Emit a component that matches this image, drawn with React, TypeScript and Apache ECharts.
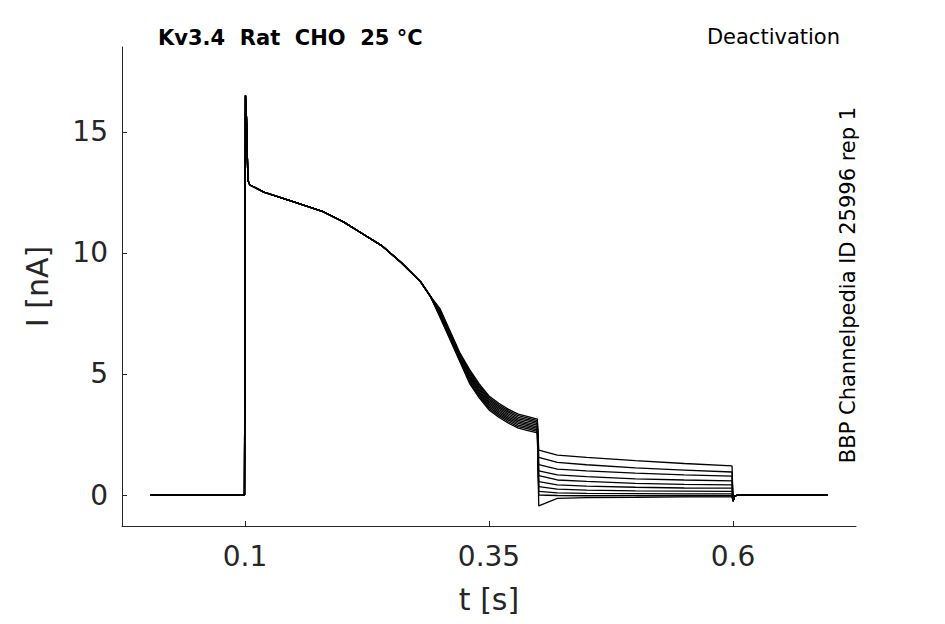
import React, { useEffect, useRef } from "react";
import * as echarts from "echarts";

const xTicks = [0.1, 0.35, 0.6];
const yTicks = [0, 5, 10, 15];
// shared activation segment (t [s], I [nA])
const actT = [0.003, 0.0995, 0.1, 0.1005, 0.1015, 0.103, 0.105, 0.12, 0.15, 0.18, 0.2, 0.22, 0.24, 0.26, 0.28, 0.29, 0.3, 0.31, 0.32, 0.33, 0.34, 0.35, 0.36, 0.37, 0.38, 0.39, 0.3995];
const actI = [0, 0, 0, 16.5, 15.6, 13.0, 12.8, 12.5, 12.1, 11.7, 11.3, 10.8, 10.3, 9.6, 8.8, 8.2, 7.5, 6.6, 5.7, 4.9, 4.3, 3.8, 3.5, 3.25, 3.05, 2.95, 2.85];
// per-trace spread in the decay part
const spread = [0.18, 0.14, 0.1, 0.06, 0.02, -0.02, -0.06, -0.1, -0.14, -0.18];
// tail levels at t = 0.401, 0.42, 0.45, 0.5, 0.55, 0.599
const tailT = [0.401, 0.42, 0.45, 0.5, 0.55, 0.599];
const tails = [
  [1.85, 1.65, 1.55, 1.42, 1.3, 1.2],
  [1.55, 1.35, 1.25, 1.12, 1.03, 0.95],
  [1.25, 1.07, 1.0, 0.9, 0.83, 0.78],
  [1.0, 0.83, 0.76, 0.67, 0.62, 0.58],
  [0.8, 0.62, 0.56, 0.48, 0.44, 0.42],
  [0.55, 0.42, 0.37, 0.32, 0.29, 0.28],
  [0.35, 0.24, 0.2, 0.17, 0.16, 0.15],
  [0.15, 0.09, 0.07, 0.06, 0.05, 0.05],
  [0.0, -0.02, -0.03, -0.03, -0.03, -0.03],
  [-0.45, -0.14, -0.11, -0.1, -0.08, -0.08],
];
const endT = [0.6, 0.6015, 0.605, 0.697];
const endI = [-0.25, -0.05, 0, 0];

function buildTrace(k: number): number[][] {
  const pts: number[][] = [];
  actT.forEach((t, i) => {
    const s = t >= 0.3 ? spread[k] * (t < 0.33 ? 1 : 1.6) : 0;
    pts.push([t, actI[i] + s]);
  });
  tailT.forEach((t, i) => pts.push([t, tails[k][i]]));
  endT.forEach((t, i) => pts.push([t, endI[i]]));
  return pts;
}

export default function App() {
  const ref = useRef<HTMLDivElement>(null);
  useEffect(() => {
    const chart = echarts.init(ref.current!, null, { renderer: "svg" });
    const axisCol = "#262626";
    const font = "DejaVu Sans";
    chart.setOption({
      animation: false,
      textStyle: { fontFamily: font },
      grid: { left: 122, right: 89, top: 47, bottom: 98 },
      xAxis: {
        type: "value", min: -0.026, max: 0.726,
        name: "t [s]", nameLocation: "middle", nameGap: 58,
        nameTextStyle: { fontSize: 30, color: axisCol, fontFamily: font },
        axisLine: { onZero: false, lineStyle: { color: axisCol } },
        axisTick: { show: true, inside: true, customValues: xTicks, lineStyle: { color: axisCol } },
        axisLabel: { customValues: xTicks, fontSize: 28, color: axisCol, margin: 16, fontFamily: font },
        splitLine: { show: false },
      },
      yAxis: {
        type: "value", min: -1.28, max: 18.5,
        name: "I [nA]", nameLocation: "middle", nameGap: 70,
        nameTextStyle: { fontSize: 30, color: axisCol, fontFamily: font },
        axisLine: { show: true, onZero: false, lineStyle: { color: axisCol } },
        axisTick: { show: true, inside: true, customValues: yTicks, lineStyle: { color: axisCol } },
        axisLabel: { customValues: yTicks, fontSize: 28, color: axisCol, margin: 14, fontFamily: font },
        splitLine: { show: false },
      },
      series: tails.map((_, k) => ({
        type: "line", data: buildTrace(k), showSymbol: false, symbol: "none",
        lineStyle: { color: "#000", width: 1.3 }, silent: true,
      })),
      graphic: [
        { type: "text", left: 158, top: 27, style: { text: "Kv3.4  Rat  CHO  25 °C", font: `bold 21px ${font}`, fill: "#000" } },
        { type: "text", right: 105, top: 26, style: { text: "Deactivation", font: `21px ${font}`, fill: "#000" } },
        { type: "text", x: 837, y: 285, rotation: Math.PI / 2, style: { text: "BBP Channelpedia ID 25996 rep 1", font: `21px ${font}`, fill: "#000", align: "center", verticalAlign: "top" } },
      ],
    });
    return () => chart.dispose();
  }, []);
  return <div ref={ref} style={{ width: 945, height: 624, margin: -8 }} />;
}
